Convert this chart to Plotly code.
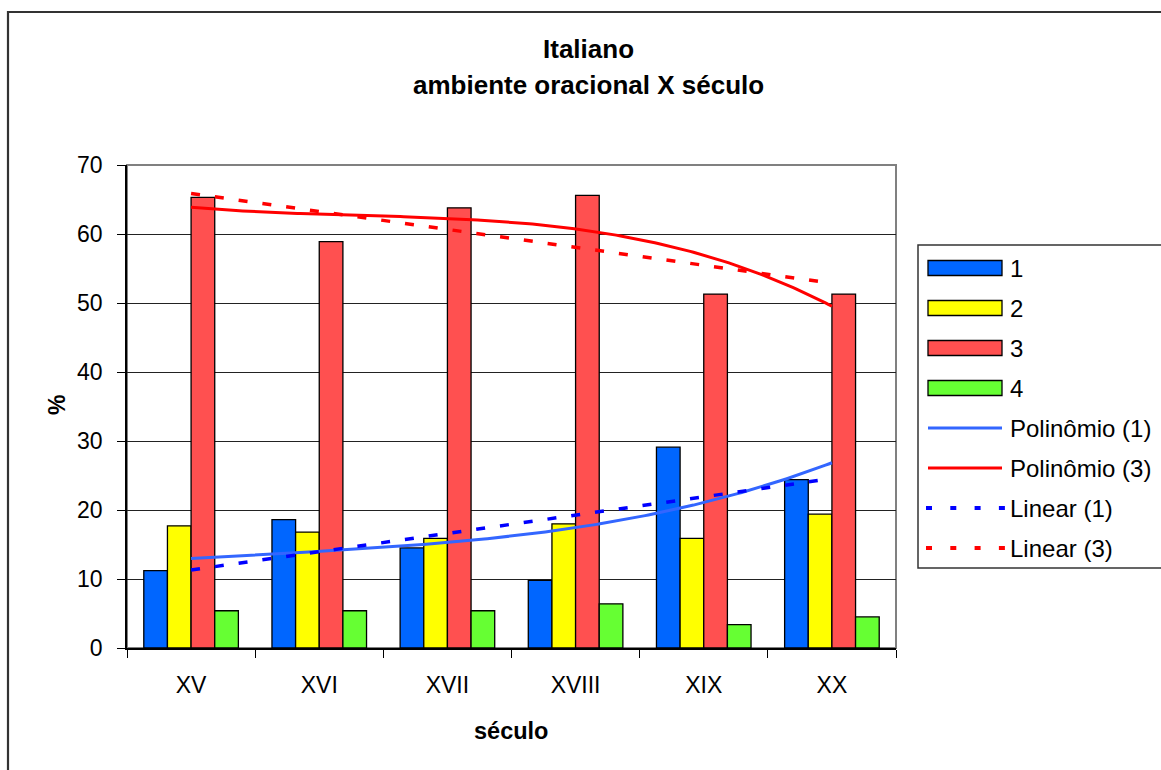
import numpy as np
import plotly.graph_objects as go

# ---- data -------------------------------------------------------------
seculos = ["XV", "XVI", "XVII", "XVIII", "XIX", "XX"]
serie_1 = [11.2, 18.6, 14.5, 9.8, 29.1, 24.4]
serie_2 = [17.7, 16.8, 15.9, 18.0, 15.9, 19.4]
serie_3 = [65.3, 58.9, 63.8, 65.6, 51.3, 51.3]
serie_4 = [5.4, 5.4, 5.4, 6.4, 3.4, 4.5]
y_ticks = [0, 10, 20, 30, 40, 50, 60, 70]

nomes_barras = ["1", "2", "3", "4"]
cores_barras = ["#0066FF", "#FFFF00", "#FF5050", "#66FF33"]

# ---- page geometry ----------------------------------------------------
W, H = 1161, 770
ML, MT, MR, MB = 127, 165, 265, 122
PW, PH = W - ML - MR, H - MT - MB
FONT = "Liberation Sans, Arial, sans-serif"


def px(x):
    return (x - ML) / PW


def py(y):
    return 1 - (y - MT) / PH


pos = np.arange(1, len(seculos) + 1)

fig = go.Figure()

for nome, valores, cor in zip(nomes_barras, [serie_1, serie_2, serie_3, serie_4], cores_barras):
    fig.add_trace(go.Bar(
        x=pos, y=valores, name=nome,
        marker=dict(color=cor, line=dict(color="black", width=1.3)),
        showlegend=False,
    ))

# Excel-style trendlines fitted to series 1 and 3
xs = np.linspace(pos[0], pos[-1], 200)
tendencias = [
    ("Polinômio (1)", serie_1, 3, "#3366FF", "solid"),
    ("Polinômio (3)", serie_3, 3, "#FF0000", "solid"),
    ("Linear (1)", serie_1, 1, "#0000FF", "9px,15px"),
    ("Linear (3)", serie_3, 1, "#FF0000", "9px,15px"),
]
for nome, valores, grau, cor, traco in tendencias:
    coef = np.polyfit(pos, valores, grau)
    fig.add_trace(go.Scatter(
        x=xs, y=np.polyval(coef, xs), mode="lines", name=nome,
        line=dict(color=cor, width=3.5 if traco != "solid" else 3, dash=traco),
        showlegend=False, hoverinfo="skip",
    ))

shapes = []
annotations = []

# outer chart frame
shapes.append(dict(type="rect", xref="paper", yref="paper",
                   x0=px(8), x1=px(1180), y0=py(790), y1=py(12),
                   line=dict(color="#333333", width=2.2), layer="below"))
# plot area border (top / right in grey)
shapes.append(dict(type="rect", xref="paper", yref="paper",
                   x0=0, x1=1, y0=0, y1=1,
                   line=dict(color="#808080", width=2), layer="below"))


def texto(t, x, y, size, **kw):
    annotations.append(dict(text=t, xref="paper", yref="paper",
                            x=px(x), y=py(y), showarrow=False,
                            yanchor="middle", **kw,
                            font=dict(size=size, family=FONT, color="black")))


# titles
texto("<b>Italiano</b>", 588, 49, 26, xanchor="center")
texto("<b>ambiente oracional X século</b>", 588, 85, 26, xanchor="center")
texto("<b>século</b>", 511, 731, 23.5, xanchor="center")
texto("<b>%</b>", 57, 405, 23, xanchor="center", textangle=-90)

# legend box
LX0, LY0, LY1 = 918, 245, 568
shapes.append(dict(type="rect", xref="paper", yref="paper",
                   x0=px(LX0), x1=px(1185), y0=py(LY1), y1=py(LY0),
                   line=dict(color="#333333", width=1.5), fillcolor="white"))
entradas = [(n, "bar", c, None) for n, c in zip(nomes_barras, cores_barras)]
entradas += [(t[0], "line", t[3], t[4]) for t in tendencias]
for i, (nome, tipo, cor, traco) in enumerate(entradas):
    yc = 268 + 40 * i
    if tipo == "bar":
        shapes.append(dict(type="rect", xref="paper", yref="paper",
                           x0=px(928), x1=px(1002), y0=py(yc + 7.5), y1=py(yc - 7.5),
                           fillcolor=cor, line=dict(color="black", width=1.3)))
    elif traco == "solid":
        shapes.append(dict(type="line", xref="paper", yref="paper",
                           x0=px(928), x1=px(1002), y0=py(yc), y1=py(yc),
                           line=dict(color=cor, width=3)))
    else:
        shapes.append(dict(type="line", xref="paper", yref="paper",
                           x0=px(926), x1=px(1005), y0=py(yc), y1=py(yc),
                           line=dict(color=cor, width=4, dash="6px,18.3px")))
    texto(nome, 1008, yc, 24, xanchor="left")

fig.update_layout(
    width=W, height=H,
    margin=dict(l=ML, r=MR, t=MT, b=MB),
    paper_bgcolor="white", plot_bgcolor="white",
    barmode="group", bargap=0.262, bargroupgap=0,
    font=dict(family=FONT, size=23, color="black"),
    shapes=shapes, annotations=annotations,
    showlegend=False,
)
fig.update_xaxes(
    range=[0.5, len(seculos) + 0.5],
    tickmode="array", tickvals=pos, ticktext=seculos,
    ticks="", showgrid=False, zeroline=False,
    showline=True, linecolor="black", linewidth=1.5,
    ticklabelstandoff=16,
    tickfont=dict(size=23, family=FONT),
    minor=dict(tick0=0.5, dtick=1, ticks="outside", ticklen=8,
               tickcolor="black", tickwidth=1.3, showgrid=False),
)
fig.update_yaxes(
    range=[0, 70], tickmode="array", tickvals=y_ticks,
    ticks="outside", ticklen=8, tickcolor="black", tickwidth=1.3,
    showgrid=True, gridcolor="#222222", gridwidth=1,
    zeroline=False, showline=True, linecolor="black", linewidth=1.5,
    ticklabelstandoff=10,
    tickfont=dict(size=23, family=FONT),
)

fig.write_html("out.html")
